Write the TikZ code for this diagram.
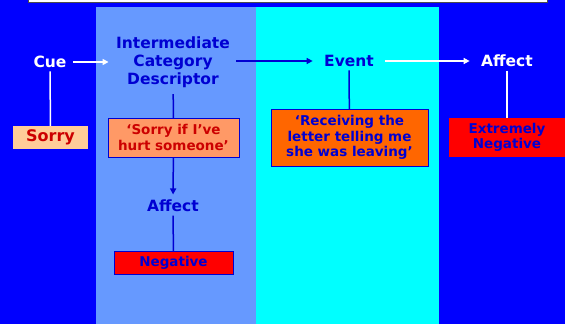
\documentclass[tikz,border=0pt]{standalone}
\usepackage{fontspec}
\setmainfont{DejaVu Sans}
\usetikzlibrary{arrows.meta,positioning}
\definecolor{bgblue}{RGB}{0,0,255}
\definecolor{paleblue}{RGB}{102,153,255}
\definecolor{aqua}{RGB}{0,255,255}
\definecolor{txtblue}{RGB}{0,0,210}
\definecolor{darkred}{RGB}{204,0,0}
\definecolor{peach}{RGB}{255,204,153}
\definecolor{salmon}{RGB}{255,153,102}
\definecolor{orng}{RGB}{255,102,0}
\tikzset{
  heading/.style={font=\fontsize{15.5}{18}\selectfont\bfseries, align=center},
  textbox/.style={rectangle, font=\fontsize{13.5}{15.5}\selectfont\bfseries, align=center, inner sep=0pt},
  link/.style={line width=1.5pt},
  arr/.style={line width=1.5pt, -{Triangle[length=6pt,width=6pt]}}
}

\begin{document}
\begin{tikzpicture}[x=1pt,y=-1pt]
		\useasboundingbox (0,0) rectangle (565,324);
		\fill [bgblue] (0,0) rectangle (565,324);
		\fill [paleblue] (96,7) rectangle (256,324);
		\fill [aqua] (256,7) rectangle (439,324);
		\path [draw=black!70, fill=white, line width=0.8pt] (28,-6) rectangle (547,2);
		% top row
		\node (cue) at (50,62) [heading, text=white] {Cue};
		\node (icd) at (173,62) [heading, text=txtblue] {Intermediate \\ Category \\ Descriptor};
		\node (event) at (349,61) [heading, text=txtblue] {Event};
		\node (affa) at (507,61) [heading, text=white] {Affect};
		% boxes
		\node (sorry) at (50.5,137.5) [textbox, fill=peach, text=darkred, minimum width=75pt, minimum height=23pt, font=\fontsize{16}{18}\selectfont\bfseries] {Sorry};
		\node (sorryif) at (173.5,137.5) [textbox, fill=salmon, draw=txtblue, text=darkred, minimum width=131pt, minimum height=39pt] {`Sorry if I've \\ hurt someone'};
		\node (recv) at (349.5,137.5) [textbox, fill=orng, draw=txtblue, text=txtblue, minimum width=157pt, minimum height=57pt] {`Receiving the \\ letter telling me \\ she was leaving'};
		\node (extr) at (507,137.5) [textbox, fill=red, text=txtblue, minimum width=116pt, minimum height=39pt] {Extremely \\ Negative};
		\node (affb) at (173,206) [heading, text=txtblue] {Affect};
		\node (neg) at (173.5,262.5) [textbox, fill=red, draw=txtblue, text=txtblue, minimum width=119pt, minimum height=23pt] {Negative};
		% connectors
		\path [draw, arr, white, shorten <=3pt, shorten >=4pt] (cue) -- (icd.west|-cue);
		\path [draw, arr, txtblue, shorten <=3pt, shorten >=8pt] (icd.east|-event) -- (event);
		\path [draw, arr, white, shorten <=8pt, shorten >=8pt] (event) -- (affa);
		\path [draw, link, white] (cue) -- (sorry);
		\path [draw, link, txtblue, shorten <=3pt] (icd) -- (sorryif);
		\path [draw, arr, txtblue, shorten >=2pt] (sorryif) -- (affb);
		\path [draw, link, txtblue] (event) -- (recv);
		\path [draw, link, white] (affa) -- (extr.north);
		\path [draw, link, txtblue] (affb) -- (neg);
	\end{tikzpicture}
\end{document}
